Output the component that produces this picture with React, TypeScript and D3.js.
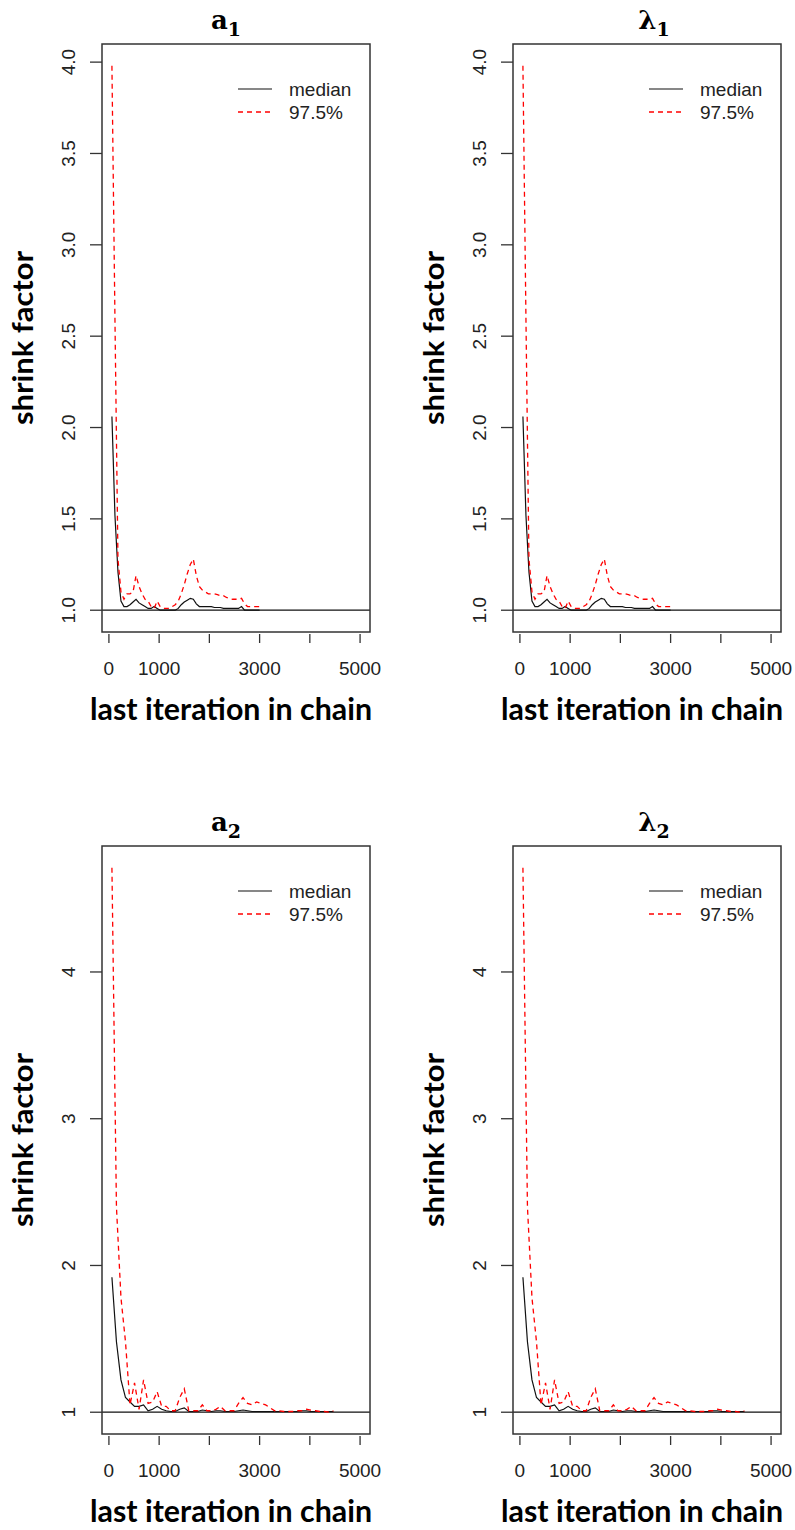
import React from "react";
import * as d3 from "d3";

// Gelman-Rubin shrink factor traces (median and 97.5% quantile) per parameter.
const topIterations = [
  60, 120, 180, 240, 300, 360, 420, 480, 540, 600, 660, 720, 780, 840, 900, 960, 1020, 1080, 1140, 1200,
  1260, 1320, 1380, 1440, 1500, 1560, 1620, 1680, 1740, 1800, 1860, 1920, 1980, 2040, 2100, 2160, 2220,
  2280, 2340, 2400, 2460, 2520, 2580, 2640, 2700, 2760, 2820, 2880, 2940, 3000,
];
const topMedian = [
  2.06, 1.52, 1.21, 1.05, 1.02, 1.02, 1.03, 1.045, 1.06, 1.04,
  1.03, 1.02, 1.01, 1.01, 1.02, 1.01, 1.0, 1.0, 1.0, 1.0,
  1.0, 1.0, 1.01, 1.03, 1.045, 1.055, 1.065, 1.06, 1.035, 1.02,
  1.02, 1.02, 1.02, 1.02, 1.015, 1.015, 1.015, 1.01, 1.01, 1.01,
  1.01, 1.01, 1.01, 1.02, 1.0, 1.0, 1.0, 1.0, 1.0, 1.0,
];
const topUpper = [
  3.98, 2.6, 1.28, 1.1, 1.06, 1.09, 1.09, 1.1, 1.19, 1.13,
  1.09, 1.06, 1.05, 1.02, 1.01, 1.05, 1.02, 1.01, 1.01, 1.01,
  1.02, 1.03, 1.05, 1.09, 1.14, 1.2, 1.25, 1.28, 1.19, 1.13,
  1.11, 1.1, 1.09, 1.09, 1.09, 1.085, 1.08, 1.08, 1.07, 1.065,
  1.06, 1.06, 1.06, 1.065, 1.035, 1.02, 1.02, 1.02, 1.02, 1.02,
];

const bottomIterations = [
  60, 150, 240, 330, 420, 510, 600, 690, 780, 870, 960, 1050, 1140, 1230, 1320, 1410, 1500, 1590, 1680,
  1770, 1860, 1950, 2040, 2130, 2220, 2310, 2400, 2490, 2580, 2670, 2760, 2850, 2940, 3030, 3120, 3210,
  3300, 3390, 3480, 3570, 3660, 3750, 3840, 3930, 4020, 4110, 4200, 4290, 4380, 4470,
];
const bottomMedian = [
  1.92, 1.48, 1.22, 1.1, 1.07, 1.04, 1.04, 1.05, 1.01, 1.02,
  1.04, 1.02, 1.01, 1.005, 1.005, 1.02, 1.03, 1.005, 1.005, 1.005,
  1.015, 1.01, 1.005, 1.01, 1.01, 1.005, 1.005, 1.005, 1.01, 1.015,
  1.01, 1.005, 1.005, 1.005, 1.005, 1.005, 1.005, 1.005, 1.005, 1.005,
  1.005, 1.005, 1.01, 1.01, 1.005, 1.005, 1.005, 1.005, 1.005, 1.005,
];
const bottomUpper = [
  4.71, 2.4, 1.78, 1.48, 1.05, 1.2, 1.02, 1.22, 1.06, 1.07,
  1.14, 1.04, 1.04, 1.01, 1.01, 1.1, 1.16, 1.01, 1.01, 1.01,
  1.05, 1.01, 1.01, 1.02, 1.04, 1.01, 1.01, 1.01, 1.06, 1.1,
  1.06, 1.05, 1.07, 1.06, 1.05, 1.03, 1.01, 1.01, 1.005, 1.005,
  1.005, 1.01, 1.01, 1.02, 1.015, 1.01, 1.005, 1.005, 1.0, 1.01,
];

const xLimits = [60, 5000];
const xTickValues = [0, 1000, 2000, 3000, 4000, 5000];
const xTickLabels = ["0", "1000", "", "3000", "", "5000"];
const topYTicks = [1.0, 1.5, 2.0, 2.5, 3.0, 3.5, 4.0];
const topYLabels = ["1.0", "1.5", "2.0", "2.5", "3.0", "3.5", "4.0"];
const bottomYTicks = [1, 2, 3, 4];
const bottomYLabels = ["1", "2", "3", "4"];
const legendLabels = ["median", "97.5%"];
const yTitle = "shrink factor";
const xTitle = "last iteration in chain";

const BOX_W = 268;
const BOX_H = 588;
const SANS = "'Liberation Sans', Arial, sans-serif";
const TITLE_FONT = "'Lato', 'Open Sans', sans-serif";
const MATH_FONT = "'DejaVu Serif', 'Liberation Serif', serif";
const RED = "#ff0000";
const DASH = "5,4";

type PanelProps = {
  symbol: string;
  sub: string;
  left: number;
  top: number;
  titleDx: number;
  iterations: number[];
  median: number[];
  upper: number[];
  yTicks: number[];
  yLabels: string[];
};

function pad(lo: number, hi: number): [number, number] {
  const e = (hi - lo) * 0.04;
  return [lo - e, hi + e];
}

function Panel(p: PanelProps) {
  const x = d3.scaleLinear().domain(pad(xLimits[0], xLimits[1])).range([p.left, p.left + BOX_W]);
  const all = p.median.concat(p.upper);
  const [lo, hi] = d3.extent(all) as [number, number];
  const y = d3.scaleLinear().domain(pad(lo, hi)).range([p.top + BOX_H, p.top]);
  const bottom = p.top + BOX_H;
  const cx = p.left + BOX_W / 2;

  const line = d3
    .line<number>()
    .x((_, i) => x(p.iterations[i]))
    .y((d) => y(d));

  return (
    <g>
      {/* title */}
      <text
        x={cx + p.titleDx}
        y={p.top - 15}
        textAnchor="middle"
        fontFamily={MATH_FONT}
        fontWeight="bold"
        fontSize={26}
        fill="#000"
      >
        <tspan>{p.symbol}</tspan>
        <tspan dy={7} fontSize={19}>
          {p.sub}
        </tspan>
      </text>

      {/* reference line at 1 */}
      <line x1={p.left} x2={p.left + BOX_W} y1={y(1)} y2={y(1)} stroke="#111" strokeWidth={1.3} />

      {/* traces */}
      <path d={line(p.median) || ""} fill="none" stroke="#111" strokeWidth={1.2} />
      <path d={line(p.upper) || ""} fill="none" stroke={RED} strokeWidth={1.3} strokeDasharray={DASH} />

      {/* frame */}
      <rect x={p.left} y={p.top} width={BOX_W} height={BOX_H} fill="none" stroke="#333" strokeWidth={1.5} />

      {/* y axis */}
      {p.yTicks.map((t, i) => (
        <g key={"y" + i}>
          <line x1={p.left - 12} x2={p.left} y1={y(t)} y2={y(t)} stroke="#333" strokeWidth={1.3} />
          <text
            transform={`translate(${p.left - 27},${y(t)}) rotate(-90)`}
            textAnchor="middle"
            fontFamily={SANS}
            fontSize={19}
            fill="#222"
          >
            {p.yLabels[i]}
          </text>
        </g>
      ))}
      <text
        transform={`translate(${p.left - 69},${p.top + BOX_H / 2}) rotate(-90)`}
        textAnchor="middle"
        fontFamily={TITLE_FONT}
        fontWeight="bold"
        fontSize={29}
        fill="#000"
        textLength={174}
        lengthAdjust="spacingAndGlyphs"
      >
        {yTitle}
      </text>

      {/* x axis */}
      {xTickValues.map((t, i) => (
        <g key={"x" + i}>
          <line x1={x(t)} x2={x(t)} y1={bottom + 2} y2={bottom + 11} stroke="#333" strokeWidth={1.3} />
          {xTickLabels[i] && (
            <text x={x(t)} y={bottom + 43} textAnchor="middle" fontFamily={SANS} fontSize={19} fill="#222">
              {xTickLabels[i]}
            </text>
          )}
        </g>
      ))}
      <text
        x={cx - 5}
        y={bottom + 88}
        textAnchor="middle"
        fontFamily={TITLE_FONT}
        fontWeight="bold"
        fontSize={30}
        fill="#000"
        textLength={282}
        lengthAdjust="spacingAndGlyphs"
      >
        {xTitle}
      </text>

      {/* legend */}
      <line x1={p.left + 136} x2={p.left + 170} y1={p.top + 45} y2={p.top + 45} stroke="#111" strokeWidth={1.2} />
      <line
        x1={p.left + 136}
        x2={p.left + 170}
        y1={p.top + 68}
        y2={p.top + 68}
        stroke={RED}
        strokeWidth={1.3}
        strokeDasharray={DASH}
      />
      {legendLabels.map((l, i) => (
        <text
          key={l}
          x={p.left + 187}
          y={p.top + 45 + i * 23}
          dy="0.35em"
          fontFamily={SANS}
          fontSize={19}
          fill="#222"
        >
          {l}
        </text>
      ))}
    </g>
  );
}

export default function App() {
  const panels: PanelProps[] = [
    { symbol: "a", sub: "1", left: 102, top: 44, titleDx: -10, iterations: topIterations, median: topMedian, upper: topUpper, yTicks: topYTicks, yLabels: topYLabels },
    { symbol: "λ", sub: "1", left: 513, top: 44, titleDx: 7, iterations: topIterations, median: topMedian, upper: topUpper, yTicks: topYTicks, yLabels: topYLabels },
    { symbol: "a", sub: "2", left: 102, top: 846, titleDx: -10, iterations: bottomIterations, median: bottomMedian, upper: bottomUpper, yTicks: bottomYTicks, yLabels: bottomYLabels },
    { symbol: "λ", sub: "2", left: 513, top: 846, titleDx: 7, iterations: bottomIterations, median: bottomMedian, upper: bottomUpper, yTicks: bottomYTicks, yLabels: bottomYLabels },
  ];
  return (
    <svg
      width={795}
      height={1530}
      style={{ position: "absolute", left: 0, top: 0, background: "#fff" }}
    >
      <rect width={795} height={1530} fill="#fff" />
      {panels.map((p, i) => (
        <Panel key={i} {...p} />
      ))}
    </svg>
  );
}
